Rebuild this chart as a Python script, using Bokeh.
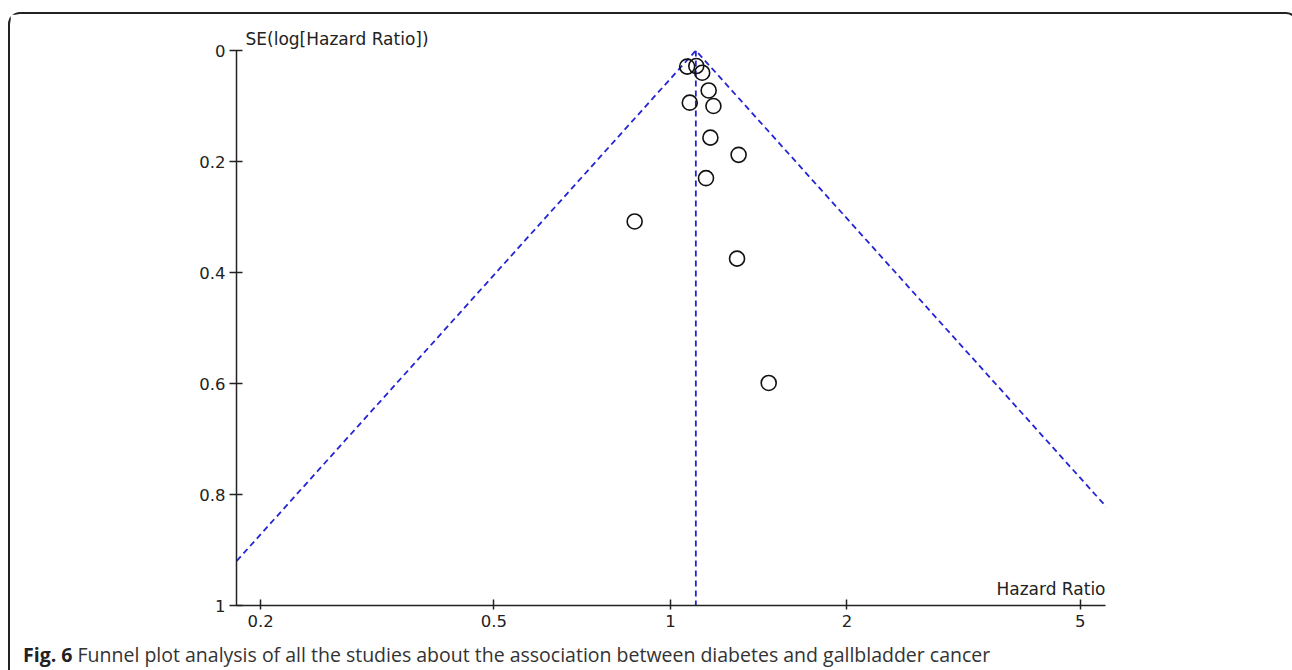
import math
from bokeh.plotting import figure
from bokeh.models import Range1d, FixedTicker, Label, Title, Div
from bokeh.layouts import column
from bokeh.embed import file_html
from bokeh.resources import INLINE

# ---- data ----
hazard_ratio = [1.068, 1.107, 1.133, 1.162, 1.079, 1.184, 1.170, 1.307, 1.150, 0.869, 1.299, 1.471]
se_log_hr = [0.029, 0.028, 0.040, 0.072, 0.094, 0.100, 0.157, 0.188, 0.230, 0.308, 0.375, 0.599]
pooled_hr = 1.105
z_value = 1.96

x_ticks = [0.2, 0.5, 1, 2, 5]
x_tick_labels = ["0.2", "0.5", "1", "2", "5"]
y_ticks = [0, 0.2, 0.4, 0.6, 0.8, 1]
y_tick_labels = ["0", "0.2", "0.4", "0.6", "0.8", "1"]

x_label = "Hazard Ratio"
y_label = "SE(log[Hazard Ratio])"
caption_bold = "Fig. 6"
caption_text = "Funnel plot analysis of all the studies about the association between diabetes and gallbladder cancer"

x_start, x_end = 0.182, 5.52
se_max = 1.0

FONT = "DejaVu Sans"
CAP_FONT = "Open Sans"

p = figure(width=1276, height=620, x_axis_type="log",
           x_range=Range1d(x_start, x_end), y_range=Range1d(se_max, 0),
           output_backend="svg", toolbar_location=None,
           min_border_left=226, min_border_right=181,
           min_border_top=36, min_border_bottom=29)
p.grid.visible = False
p.outline_line_color = None
p.background_fill_color = "white"
p.border_fill_color = "white"

# funnel limits and pooled estimate
blue = "#2424d4"
lo = pooled_hr * math.exp(-z_value * se_max)
hi = pooled_hr * math.exp(z_value * se_max)
p.line([lo, pooled_hr, hi], [se_max, 0, se_max], line_color=blue,
       line_width=1.8, line_dash="6 4")
p.line([pooled_hr, pooled_hr], [0, se_max], line_color=blue,
       line_width=1.8, line_dash="6 4")

# studies
p.scatter(hazard_ratio, se_log_hr, marker="circle", size=15,
          fill_color=None, line_color="#111111", line_width=1.6)

# axes
for ax in (p.xaxis[0], p.yaxis[0]):
    ax.axis_line_color = "#222222"
    ax.axis_line_width = 1.5
    ax.major_tick_line_color = "#222222"
    ax.major_tick_line_width = 1.5
    ax.minor_tick_line_color = None
    ax.major_label_text_font = FONT
    ax.major_label_text_font_size = "16.5px"
    ax.major_label_text_color = "#222222"

p.xaxis.ticker = FixedTicker(ticks=x_ticks, minor_ticks=[])
p.xaxis.major_label_overrides = {t: s for t, s in zip(x_ticks, x_tick_labels)}
p.xaxis.major_tick_in = 6
p.xaxis.major_tick_out = 4
p.xaxis.major_label_standoff = 5

p.yaxis.ticker = FixedTicker(ticks=y_ticks, minor_ticks=[])
p.yaxis.major_label_overrides = {t: s for t, s in zip(y_ticks, y_tick_labels)}
p.yaxis.major_tick_in = 6
p.yaxis.major_tick_out = 7
p.yaxis.major_label_standoff = 4

# axis titles
p.add_layout(Title(text=y_label, align="left", offset=9, standoff=4,
                   text_font=FONT, text_font_size="17px", text_font_style="normal",
                   text_color="#222222"), "above")
p.add_layout(Label(x=x_end, y=se_max, x_offset=0, y_offset=7, text=x_label,
                   text_font=FONT, text_font_size="17px", text_color="#222222",
                   text_baseline="bottom", text_align="right"))

# caption
caption = Div(
    text=f'<span style="font-weight:bold;color:#222">{caption_bold}</span> {caption_text}',
    width=1276, height=34,
    styles={"font-family": CAP_FONT, "font-size": "19.5px", "color": "#333",
            "padding-left": "8px", "padding-top": "2px", "white-space": "nowrap"})

layout = column(p, caption, styles={
    "margin-left": "8px", "margin-top": "12px",
    "border-top": "2px solid #222", "border-left": "2px solid #222",
    "border-right": "2px solid #222",
    "border-top-left-radius": "12px", "border-top-right-radius": "12px"})

open("out.html", "w").write(file_html(layout, INLINE))
